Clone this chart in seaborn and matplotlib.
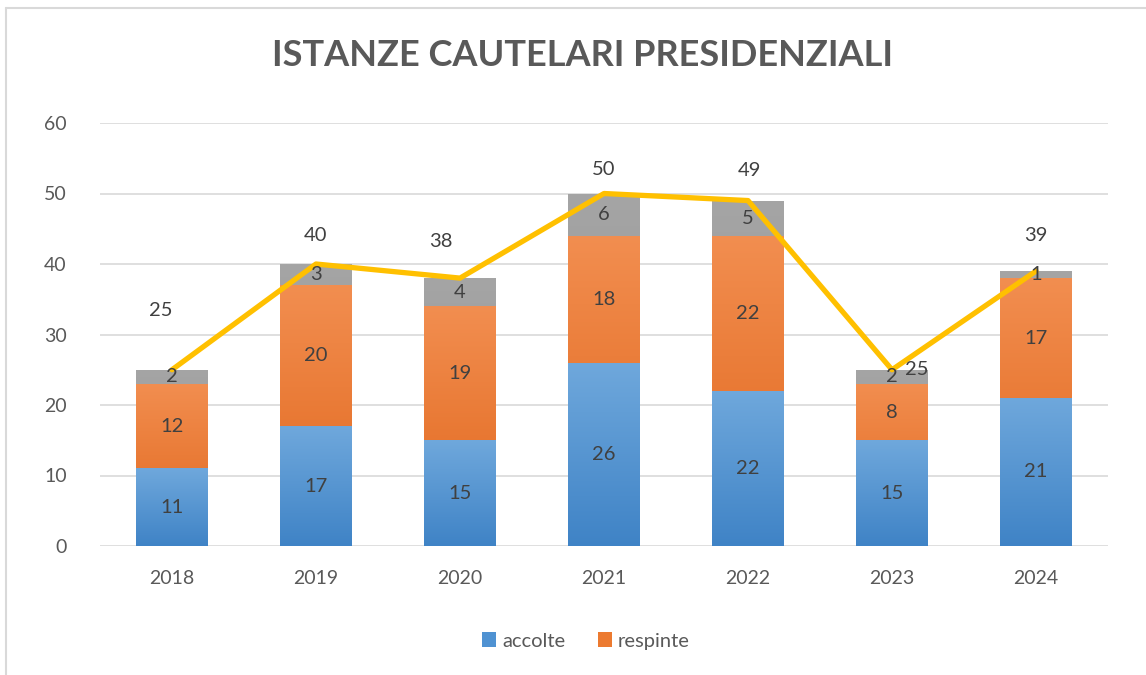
import numpy as np
import pandas as pd
import matplotlib
matplotlib.use("Agg")
import matplotlib.pyplot as plt
import seaborn as sns
from matplotlib.colors import LinearSegmentedColormap
from matplotlib.lines import Line2D
from matplotlib.patches import Patch

years = ["2018", "2019", "2020", "2021", "2022", "2023", "2024"]
accolte = [11, 17, 15, 26, 22, 15, 21]
respinte = [12, 20, 19, 18, 22, 8, 17]
altre = [2, 3, 4, 6, 5, 2, 1]
totale = [25, 40, 38, 50, 49, 25, 39]
y_ticks = [0, 10, 20, 30, 40, 50, 60]

# label placement offsets for total labels (data units)
tot_dx = [-0.08, 0.0, -0.13, 0.0, 0.01, 0.17, 0.0]
tot_dy = [8.4, 4.0, 5.2, 3.4, 4.2, 0.0, 5.0]

sns.set_theme(style="white")
plt.rcParams['font.family'] = ['Lato', 'DejaVu Sans']

df = pd.DataFrame({"year": years, "accolte": accolte, "respinte": respinte,
                   "altre": altre, "totale": totale})
df["cum2"] = df["accolte"] + df["respinte"]
df["cum3"] = df["cum2"] + df["altre"]

fig = plt.figure(figsize=(11.46, 6.75), dpi=100)
ax = fig.add_axes([100/1146, 129/675, 1008/1146, 423/675])

layers = [("cum3", "#A5A5A5", "#8F8F8F"),
          ("cum2", "#F28E50", "#E0651A"),
          ("accolte", "#6FA8DC", "#3F83C6")]
for col, ctop, cbot in layers:
    n0 = len(ax.patches)
    sns.barplot(data=df, x="year", y=col, color=ctop, width=0.5, ax=ax,
                saturation=1, linewidth=0, zorder=2)
    cmap = LinearSegmentedColormap.from_list("g", [cbot, ctop])
    for p in ax.patches[n0:]:
        p.set_facecolor("none")
        x0, y0 = p.get_x(), p.get_y()
        w, h = p.get_width(), p.get_height()
        grad = np.linspace(0, 1, 256).reshape(-1, 1)
        im = ax.imshow(grad, cmap=cmap, origin="lower", aspect="auto",
                       extent=[x0, x0 + w, y0, y0 + h], zorder=2)
        im.set_clip_path(p)

sns.lineplot(x=np.arange(len(years)), y=totale, color="#FFC000", lw=3.8,
             ax=ax, zorder=4, solid_joinstyle="round", solid_capstyle="round")

lab_kw = dict(ha="center", va="center", fontsize=14.5, color="#404040", zorder=5)
for i in range(len(years)):
    ax.text(i, accolte[i] / 2, str(accolte[i]), **lab_kw)
    ax.text(i, accolte[i] + respinte[i] / 2, str(respinte[i]), **lab_kw)
    ax.text(i, accolte[i] + respinte[i] + altre[i] / 2, str(altre[i]), **lab_kw)
    ax.text(i + tot_dx[i], totale[i] + tot_dy[i], str(totale[i]), **lab_kw)

ax.set_xlim(-0.5, len(years) - 0.5)
ax.set_ylim(0, 60)
ax.set_yticks(y_ticks)
ax.set_yticklabels([str(t) for t in y_ticks])
ax.yaxis.grid(True, color="#D9D9D9", lw=1.2, zorder=0)
ax.set_axisbelow(True)
for s in ax.spines.values():
    s.set_visible(False)
ax.tick_params(axis="both", length=0, labelsize=14, labelcolor="#595959")
ax.tick_params(axis="y", pad=24)
ax.tick_params(axis="x", pad=17)
ax.set_xlabel("")
ax.set_ylabel("")

fig.text(582/1146, 1 - 55/675, "ISTANZE CAUTELARI PRESIDENZIALI", ha="center",
         va="center", fontsize=26, fontweight="bold", color="#595959")

handles = [Patch(facecolor="#4F92D2", edgecolor="none"),
           Patch(facecolor="#EC7A30", edgecolor="none")]
fig.legend(handles, ["accolte", "respinte"], loc="center",
           bbox_to_anchor=(586/1146, 1 - 641/675), ncol=2, frameon=False,
           fontsize=14.5, handlelength=0.7, handleheight=0.7, handletextpad=0.3,
           columnspacing=1.6, labelcolor="#595959")

fig.add_artist(Line2D([6/1146, 1], [1 - 8/675, 1 - 8/675], color="#D9D9D9",
                      lw=1.5, transform=fig.transFigure))
fig.add_artist(Line2D([6/1146, 6/1146], [0, 1 - 8/675], color="#D9D9D9",
                      lw=1.5, transform=fig.transFigure))

fig.savefig("out.png", dpi=100)
